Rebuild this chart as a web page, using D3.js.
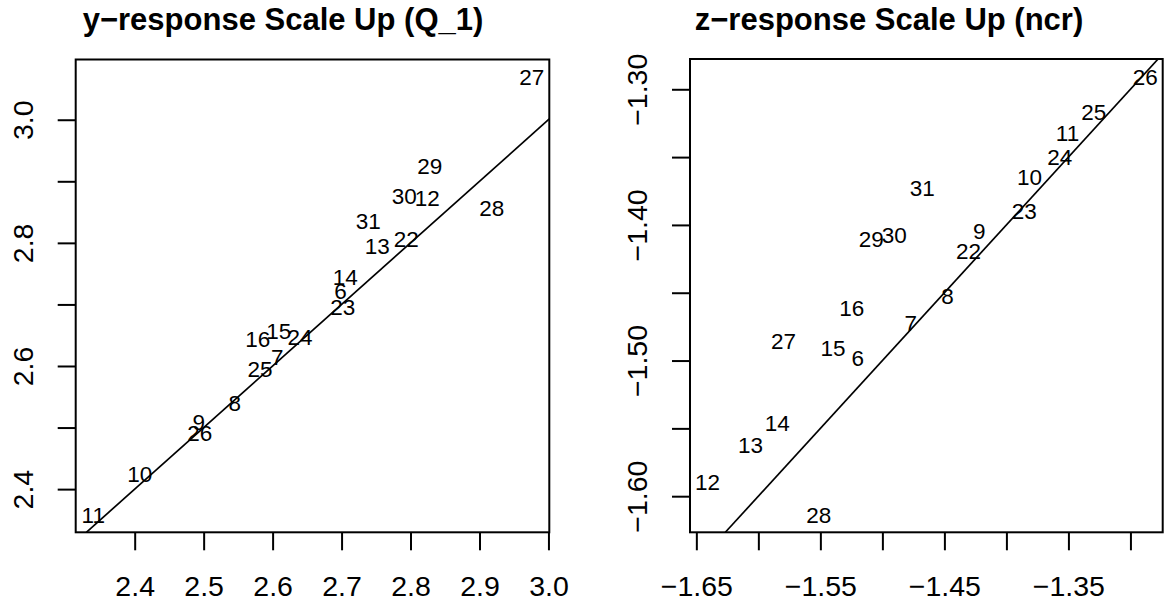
<!DOCTYPE html>
<html>
<head>
<meta charset="utf-8">
<script src="https://cdn.jsdelivr.net/npm/d3@7/dist/d3.min.js"></script>
<style>
    body { margin: 0; background: #fff; }
    svg { font-family: "Liberation Sans", Arial, Helvetica, sans-serif; display: block; }
    .frame { fill: none; stroke: #000; stroke-width: 2; }
    .refline { stroke: #000; stroke-width: 1.7; }
    .axis path { display: none; }
    .axis line { stroke: #000; stroke-width: 2; }
    .axis text { font-size: 28.5px; fill: #000; }
    .ptLabel { font-size: 22.5px; fill: #000; }
    .title { font-size: 31px; font-weight: bold; fill: #000; }
</style>
</head>
<body>
<div id="chart"></div>
<script>
/* * * * * * * * * * * * * *
 *   data   *
 * * * * * * * * * * * * * */

const pointIds = [6, 7, 8, 9, 10, 11, 12, 13, 14, 15, 16, 22, 23, 24, 25, 26, 27, 28, 29, 30, 31];

// y-response Scale Up (Q_1)
const yScaleX = [2.6986, 2.6068, 2.5452, 2.493, 2.4075, 2.3399, 2.8242, 2.7517, 2.7053, 2.6091, 2.5785,
    2.7939, 2.7017, 2.6399, 2.5819, 2.4945, 2.9758, 2.9178, 2.8278, 2.791, 2.7387];
const yScaleY = [2.7216, 2.614, 2.54, 2.509, 2.4243, 2.3583, 2.8738, 2.7945, 2.7443, 2.6573, 2.6432,
    2.8062, 2.6964, 2.6465, 2.5946, 2.4911, 3.0694, 2.8568, 2.925, 2.8764, 2.835];

// z-response Scale Up (ncr)
const zScaleX = [-1.5198, -1.4772, -1.4474, -1.4219, -1.3813, -1.3507, -1.641, -1.6064, -1.5847, -1.5398, -1.5247,
    -1.4305, -1.3857, -1.3569, -1.3296, -1.2881, -1.5798, -1.5513, -1.509, -1.4905, -1.4678];
const zScaleY = [-1.4977, -1.4721, -1.4525, -1.4042, -1.3643, -1.3323, -1.5894, -1.5625, -1.5456, -1.4908, -1.461,
    -1.419, -1.3893, -1.3499, -1.3168, -1.2906, -1.4852, -1.6137, -1.4103, -1.4072, -1.3728];

// ticks, and the subset R actually labels
const yTicksX = [2.4, 2.5, 2.6, 2.7, 2.8, 2.9, 3.0];
const yLabelsX = [2.4, 2.5, 2.6, 2.7, 2.8, 2.9, 3.0];
const yTicksY = [2.4, 2.5, 2.6, 2.7, 2.8, 2.9, 3.0];
const yLabelsY = [2.4, 2.6, 2.8, 3.0];

const zTicksX = [-1.65, -1.6, -1.55, -1.5, -1.45, -1.4, -1.35, -1.3];
const zLabelsX = [-1.65, -1.55, -1.45, -1.35];
const zTicksY = [-1.6, -1.55, -1.5, -1.45, -1.4, -1.35, -1.3];
const zLabelsY = [-1.6, -1.5, -1.4, -1.3];

const WIDTH = 1165;
const HEIGHT = 606;

const svg = d3.select('#chart').append('svg').attr('width', WIDTH).attr('height', HEIGHT);

/* * * * * * * * * * * * * *
 *       ScatterVis         *
 * * * * * * * * * * * * * */

class ScatterVis {
    constructor(svg, cfg) {
        this.svg = svg;
        this.cfg = cfg;
        this.initVis();
    }

    initVis() {
        let vis = this;
        let c = vis.cfg;

        // R style: pad data range by 4% each side
        const pad = (ext) => {
            let d = (ext[1] - ext[0]) * 0.04;
            return [ext[0] - d, ext[1] + d];
        };

        vis.x = d3.scaleLinear().domain(pad(d3.extent(c.xs))).range([c.left, c.right]);
        vis.y = d3.scaleLinear().domain(pad(d3.extent(c.ys))).range([c.bottom, c.top]);

        vis.data = c.ids.map((id, i) => ({ id: id, x: c.xs[i], y: c.ys[i] }));

        let fmt = d3.format(c.fmt);
        let minus = (v) => fmt(v).replace('-', '\u2212');

        // clip for abline
        vis.svg
            .append('clipPath')
            .attr('id', c.id + '-clip')
            .append('rect')
            .attr('x', c.left)
            .attr('y', c.top)
            .attr('width', c.right - c.left)
            .attr('height', c.bottom - c.top);

        // x axis
        vis.svg
            .append('g')
            .attr('class', 'axis')
            .attr('transform', `translate(0, ${c.bottom})`)
            .call(
                d3
                    .axisBottom(vis.x)
                    .tickValues(c.xTicks)
                    .tickSize(18)
                    .tickPadding(25.5)
                    .tickFormat((d) => (c.xLabels.some((l) => Math.abs(l - d) < 1e-9) ? minus(d) : '')),
            );

        // y axis, labels rotated like R's las=0
        let yAxis = vis.svg
            .append('g')
            .attr('class', 'axis')
            .attr('transform', `translate(${c.left}, 0)`)
            .call(
                d3
                    .axisLeft(vis.y)
                    .tickValues(c.yTicks)
                    .tickSize(18)
                    .tickFormat((d) => (c.yLabels.some((l) => Math.abs(l - d) < 1e-9) ? minus(d) : '')),
            );
        yAxis
            .selectAll('text')
            .attr('transform', 'rotate(-90)')
            .attr('x', 0)
            .attr('y', c.yLabelOff)
            .attr('dy', null)
            .attr('text-anchor', 'middle');

        // y = x reference line
        let lo = Math.max(vis.x.domain()[0], vis.y.domain()[0]);
        let hi = Math.min(vis.x.domain()[1], vis.y.domain()[1]);
        vis.svg
            .append('line')
            .attr('class', 'refline')
            .attr('clip-path', `url(#${c.id}-clip)`)
            .attr('x1', vis.x(lo))
            .attr('y1', vis.y(lo))
            .attr('x2', vis.x(hi))
            .attr('y2', vis.y(hi));

        // point labels instead of symbols
        vis.svg
            .selectAll('.ptLabel.' + c.id)
            .data(vis.data)
            .enter()
            .append('text')
            .attr('class', 'ptLabel ' + c.id)
            .attr('x', (d) => vis.x(d.x))
            .attr('y', (d) => vis.y(d.y))
            .attr('dy', '0.36em')
            .attr('text-anchor', 'middle')
            .text((d) => d.id);

        // box
        vis.svg
            .append('rect')
            .attr('class', 'frame')
            .attr('x', c.left)
            .attr('y', c.top)
            .attr('width', c.right - c.left)
            .attr('height', c.bottom - c.top);

        vis.svg
            .append('text')
            .attr('class', 'title')
            .attr('x', c.titleX)
            .attr('y', 29.5)
            .attr('text-anchor', 'middle')
            .text(c.title);
    }
}

new ScatterVis(svg, {
    id: 'yresp',
    title: 'y\u2212response Scale Up (Q_1)',
    titleX: 283,
    ids: pointIds,
    xs: yScaleX,
    ys: yScaleY,
    xTicks: yTicksX,
    xLabels: yLabelsX,
    yTicks: yTicksY,
    yLabels: yLabelsY,
    fmt: '.1f',
    left: 75.7,
    right: 549.3,
    top: 59.5,
    bottom: 532.3,
    yLabelOff: -42.7,
});

new ScatterVis(svg, {
    id: 'zresp',
    title: 'z\u2212response Scale Up (ncr)',
    titleX: 889,
    ids: pointIds,
    xs: zScaleX,
    ys: zScaleY,
    xTicks: zTicksX,
    xLabels: zLabelsX,
    yTicks: zTicksY,
    yLabels: zLabelsY,
    fmt: '.2f',
    left: 690,
    right: 1162.7,
    top: 59,
    bottom: 532.3,
    yLabelOff: -43.3,
});
</script>
</body>
</html>
